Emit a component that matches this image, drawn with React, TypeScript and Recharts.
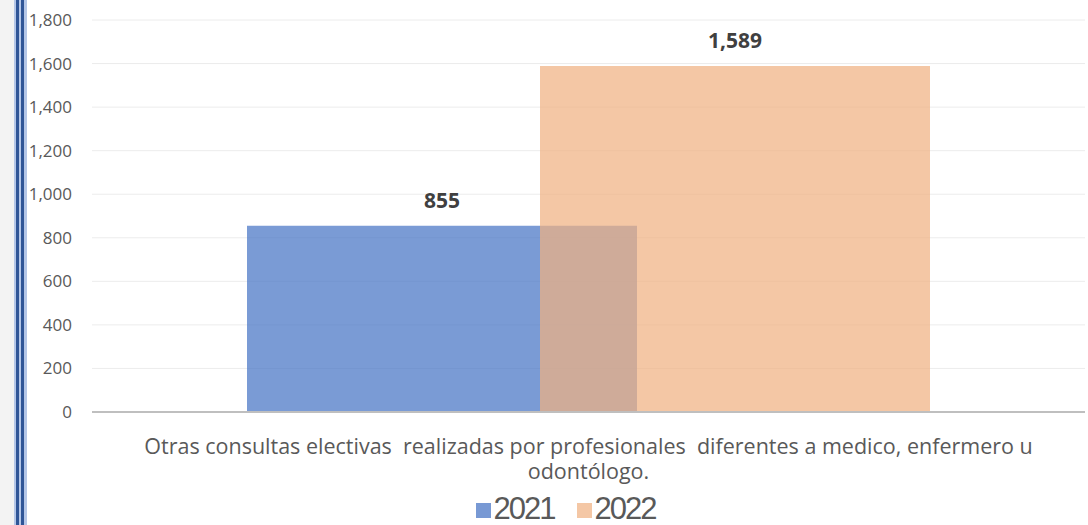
import React from "react";
import { Bar, BarChart, CartesianGrid, LabelList, Legend, XAxis, YAxis } from "recharts";

const CATEGORY = [
  "Otras consultas electivas  realizadas por profesionales  diferentes a medico, enfermero u",
  "odontólogo.",
];
const SERIES = ["2021", "2022"];
const VALUES_2021 = [855];
const VALUES_2022 = [1589];
const Y_TICKS = [0, 200, 400, 600, 800, 1000, 1200, 1400, 1600, 1800];

const BLUE = "#4472C4";
const ORANGE = "#F0B182";
const TEXT = "#595959";
const FONT = "'Open Sans', 'Noto Sans', sans-serif";

const data = VALUES_2021.map((v, i) => ({
  name: CATEGORY.join(" "),
  y2021: v,
  y2022: VALUES_2022[i],
}));

function CatTick({ x, y }: { x?: number; y?: number }) {
  return (
    <text
      x={x}
      y={y}
      textAnchor="middle"
      fill={TEXT}
      fontSize={21.5}
      fontFamily={FONT}
      style={{ whiteSpace: "pre" }}
    >
      {CATEGORY.map((line, i) => (
        <tspan key={i} x={x} dy={i === 0 ? 34 : 25}>
          {line}
        </tspan>
      ))}
    </text>
  );
}

function LegendBox() {
  const colors = [BLUE, ORANGE];
  return (
    <div style={{ display: "flex", justifyContent: "center", alignItems: "center", gap: 22, paddingTop: 13, paddingLeft: 46 }}>
      {SERIES.map((s, i) => (
        <div key={s} style={{ display: "flex", alignItems: "center", gap: 3 }}>
          <span
            style={{
              width: 15,
              height: 15,
              background: colors[i],
              opacity: 0.72,
              display: "inline-block",
              marginTop: 3,
            }}
          />
          <span
            style={{
              fontFamily: "'Liberation Sans', Arial, sans-serif",
              fontSize: 31,
              color: TEXT,
              lineHeight: "24px",
              letterSpacing: -2,
            }}
          >
            {s}
          </span>
        </div>
      ))}
    </div>
  );
}

export default function App() {
  const fmt = (v: number) => v.toLocaleString("en-US");
  return (
    <div style={{ position: "relative", width: 1088, height: 525, background: "#fff", overflow: "hidden" }}>
      <style>{"body{margin:0}"}</style>
      <BarChart
        width={1088}
        height={525}
        data={data}
        margin={{ top: 20, right: 3, left: 0, bottom: 0 }}
        barSize={390}
        barGap={-97}
      >
        <CartesianGrid stroke="#ececec" vertical={false} />
        <XAxis
          dataKey="name"
          height={72}
          axisLine={{ stroke: "#bfbfbf", strokeWidth: 2 }}
          tickLine={false}
          tick={<CatTick />}
          interval={0}
        />
        <YAxis
          width={92}
          domain={[0, 1800]}
          ticks={Y_TICKS}
          tickFormatter={fmt}
          axisLine={false}
          tickLine={false}
          tickMargin={14}
          tick={{ fontSize: 17, fill: TEXT, fontFamily: FONT }}
        />
        <Legend verticalAlign="bottom" height={41} content={<LegendBox />} />
        <Bar dataKey="y2021" fill={BLUE} fillOpacity={0.71} isAnimationActive={false}>
          <LabelList
            dataKey="y2021"
            position="top"
            offset={18}
            formatter={fmt}
            style={{ fontSize: 21, fontWeight: 700, fill: "#404040", fontFamily: FONT }}
          />
        </Bar>
        <Bar dataKey="y2022" fill={ORANGE} fillOpacity={0.72} isAnimationActive={false}>
          <LabelList
            dataKey="y2022"
            position="top"
            offset={18}
            formatter={fmt}
            style={{ fontSize: 21, fontWeight: 700, fill: "#404040", fontFamily: FONT }}
          />
        </Bar>
      </BarChart>
      {/* window frame on the left edge */}
      <div style={{ position: "absolute", left: 0, top: 0, width: 14, height: 525, background: "#f3f3f3" }} />
      <div style={{ position: "absolute", left: 14, top: 0, width: 13, height: 525, background: "#b4c6e7" }} />
      <div style={{ position: "absolute", left: 16, top: 0, width: 3, height: 525, background: "#2f5597" }} />
      <div style={{ position: "absolute", left: 21, top: 0, width: 3, height: 525, background: "#2f5597" }} />
    </div>
  );
}
